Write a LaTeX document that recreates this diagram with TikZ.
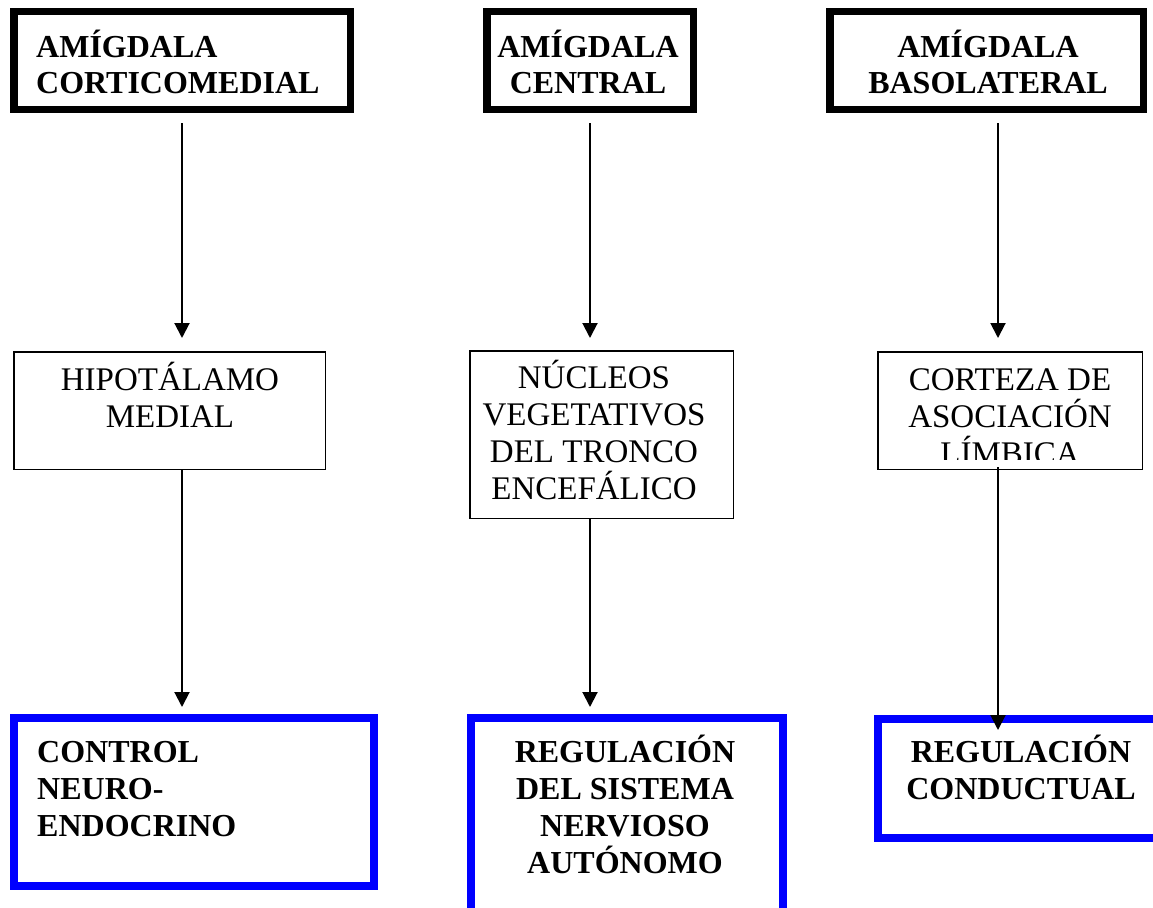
\documentclass[tikz,border=0pt]{standalone}
\usepackage{fontspec}
\setmainfont{Liberation Serif}
\usetikzlibrary{arrows.meta}
\definecolor{boxblue}{RGB}{0,0,255}
\begin{document}
\begin{tikzpicture}[x=1pt,y=-1pt,
  topbox/.style={draw=black,line width=7.5pt,rectangle,inner sep=0pt,outer sep=0pt},
  midbox/.style={draw=black,line width=1.5pt,rectangle,inner sep=0pt,outer sep=0pt},
  botbox/.style={draw=boxblue,line width=8pt,rectangle,inner sep=0pt,outer sep=0pt},
  boldtxt/.style={font=\fontsize{32}{36}\selectfont\bfseries,inner sep=0pt},
  regtxt/.style={font=\fontsize{33}{37}\selectfont,inner sep=0pt},
  boldtxtb/.style={font=\fontsize{32}{37}\selectfont\bfseries,inner sep=0pt},
  arr/.style={line width=2pt,-{Triangle[length=15pt,width=15pt]}}]
\clip (0,0) rectangle (1153,907);
\fill[white] (0,0) rectangle (1153,907);
% top boxes
\node[topbox,minimum width=336.5pt,minimum height=97.5pt] (a1) at (182,60.5) {};
\node[topbox,minimum width=206.5pt,minimum height=97.5pt] (a2) at (590,60.5) {};
\node[topbox,minimum width=313.5pt,minimum height=97.5pt] (a3) at (986.5,60.5) {};
\node[boldtxt,anchor=base west,align=left] (t1) at (36,93) {AMÍGDALA\\CORTICOMEDIAL};
\node[boldtxt,anchor=base,align=center] (t2) at (588,93) {AMÍGDALA\\CENTRAL};
\node[boldtxt,anchor=base,align=center] (t3) at (988,93) {AMÍGDALA\\BASOLATERAL};
% middle boxes
\node[midbox,minimum width=311.5pt,minimum height=117.5pt] (m1) at (169.5,410.5) {};
\node[midbox,minimum width=263.5pt,minimum height=167.5pt] (m2) at (601.5,434.5) {};
\node[midbox,minimum width=264.5pt,minimum height=117.5pt] (m3) at (1010,410.5) {};
\node[regtxt,anchor=base,align=center] (u1) at (170,427) {HIPOTÁLAMO\\MEDIAL};
\node[regtxt,anchor=base,align=center] (u2) at (594,499) {NÚCLEOS\\VEGETATIVOS\\DEL TRONCO\\ENCEFÁLICO};
\begin{scope}
\clip (878,352) rectangle (1142,459);
\node[regtxt,anchor=base,align=center] (u3) at (1010,464) {CORTEZA DE\\ASOCIACIÓN\\LÍMBICA};
\end{scope}
% bottom boxes
\node[botbox,minimum width=360pt,minimum height=168pt] (b1) at (194,802) {};
\node[botbox,minimum width=312pt,minimum height=200pt] (b2) at (627,818) {};
\node[botbox,minimum width=288pt,minimum height=119pt] (b3) at (1022,778.5) {};
\node[boldtxtb,anchor=base west,align=left] (v1) at (37,836) {CONTROL\\NEURO-\\ENDOCRINO};
\node[boldtxtb,anchor=base,align=center] (v2) at (625,873) {REGULACIÓN\\DEL SISTEMA\\NERVIOSO\\AUTÓNOMO};
\node[boldtxtb,anchor=base,align=center] (v3) at (1021,799) {REGULACIÓN\\CONDUCTUAL};
% connectors
\coordinate (c3) at (998,0);
\draw[arr,shorten <=13.75pt,shorten >=13.75pt] (a1.south) -- (a1.south |- m1.north);
\draw[arr,shorten >=11pt] (m1.south -| a1.south) -- (a1.south |- b1.north);
\draw[arr,shorten <=13.75pt,shorten >=12.75pt] (a2.south) -- (a2.south |- m2.north);
\draw[arr,shorten >=11pt] (m2.south -| a2.south) -- (a2.south |- b2.north);
\draw[arr,shorten <=13.75pt,shorten >=13.75pt] (a3.south -| c3) -- (c3 |- m3.north);
\draw[arr,shorten <=-2pt,shorten >=-11pt] (m3.south -| c3) -- (c3 |- b3.north);
\end{tikzpicture}
\end{document}
